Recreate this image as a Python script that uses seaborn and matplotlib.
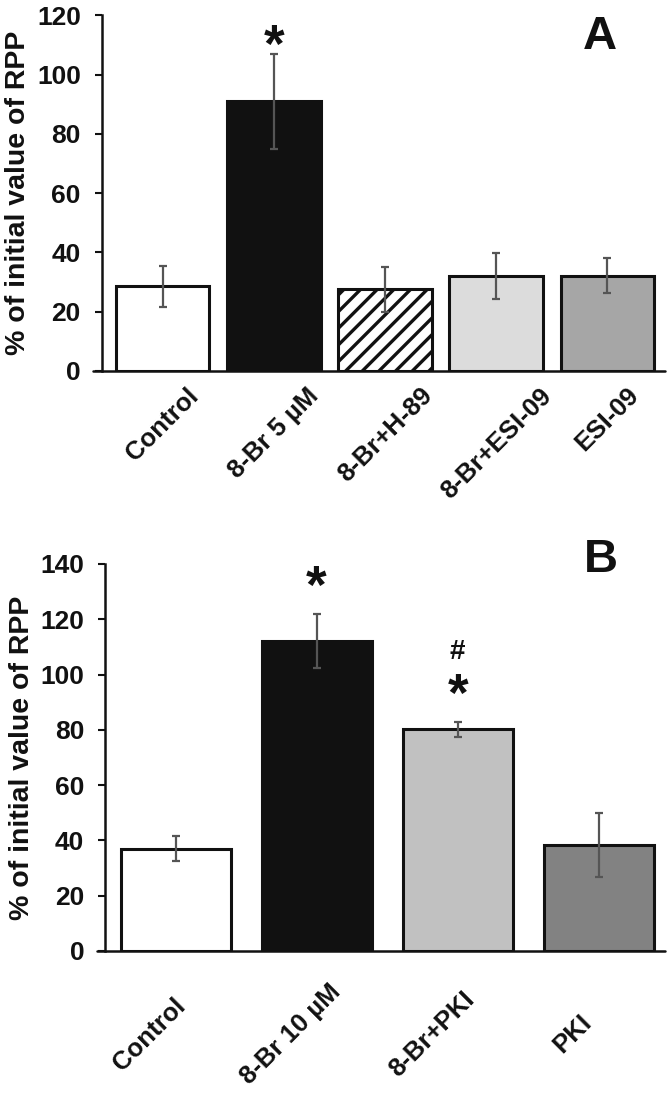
import seaborn as sns
import matplotlib.pyplot as plt
import matplotlib.transforms as mtransforms
import pandas as pd
import numpy as np

sns.set_style("white")
plt.rcParams['font.family'] = ['Liberation Sans', 'DejaVu Sans']
plt.rcParams['font.weight'] = 'bold'
plt.rcParams['hatch.linewidth'] = 2.4
plt.rcParams['text.color'] = '#111111'
plt.rcParams['xtick.color'] = '#111111'
plt.rcParams['ytick.color'] = '#111111'
plt.rcParams['axes.labelcolor'] = '#111111'

# Panel A data
groups_a = ['Control', '8-Br 5 µM', '8-Br+H-89', '8-Br+ESI-09', 'ESI-09']
mean_a = [28.5, 91.0, 27.5, 32.0, 32.2]
err_a = [6.8, 16.0, 7.5, 7.8, 6.0]
colors_a = ['#ffffff', '#111111', '#ffffff', '#dcdcdc', '#a6a6a6']

# Panel B data
groups_b = ['Control', '8-Br 10 µM', '8-Br+PKI', 'PKI']
mean_b = [37.0, 112.2, 80.2, 38.3]
err_b = [4.4, 9.7, 2.7, 11.5]
colors_b = ['#ffffff', '#111111', '#c1c1c1', '#828282']

fig = plt.figure(figsize=(6.69, 10.93), dpi=100)
ax_a = fig.add_axes([0.152, 0.6606, 0.842, 0.3254])
ax_b = fig.add_axes([0.157, 0.130, 0.837, 0.354])


def draw_panel(ax, groups, means, errs, colors, width, ymax, xlim, letter, letter_y,
               xva, xpad, xshift):
    df = pd.DataFrame({'group': groups, 'value': means})
    sns.barplot(data=df, x='group', y='value', ax=ax, width=width,
                edgecolor='#111111', linewidth=2.2)
    for patch, c in zip(ax.patches, colors):
        patch.set_facecolor(c)
    ax.errorbar(np.arange(len(groups)), means, yerr=errs, fmt='none',
                ecolor='#555555', elinewidth=1.6, capsize=3, capthick=1.6)
    ax.set_ylim(0, ymax)
    ax.set_xlim(*xlim)
    ax.set_yticks(np.arange(0, ymax + 1, 20))
    ax.set_xlabel('')
    ax.set_ylabel('% of initial value of RPP', fontsize=20.5, fontweight='bold', labelpad=4)
    ax.tick_params(axis='y', labelsize=19, length=5, width=1.5, direction='out', left=True, pad=10)
    ax.tick_params(axis='x', labelsize=18.5, length=0, pad=xpad)
    plt.setp(ax.get_xticklabels(), rotation=45, ha='center', va=xva, fontweight='bold')
    plt.setp(ax.get_yticklabels(), fontweight='bold')
    if xshift:
        shift = mtransforms.ScaledTranslation(xshift / 100, 0, fig.dpi_scale_trans)
        for lab in ax.get_xticklabels():
            lab.set_transform(lab.get_transform() + shift)
    for s in ['top', 'right', 'bottom']:
        ax.spines[s].set_visible(False)
    ax.spines['left'].set_linewidth(1.8)
    ax.spines['left'].set_color('#111111')
    # x axis line runs a little past the y axis, as in the original
    ax.axhline(0, xmin=-0.015, xmax=1, color='#111111', lw=1.8, clip_on=False, zorder=5)
    ax.text(0.885, letter_y, letter, transform=ax.transAxes, fontsize=34,
            fontweight='bold', ha='center', va='center')


draw_panel(ax_a, groups_a, mean_a, err_a, colors_a, 0.84, 120, (-0.55, 4.52), 'A', 0.94,
           'top', 9, 0)
ax_a.patches[2].set_hatch('//')
ax_a.text(1, 109, '*', fontsize=38, fontweight='bold', ha='center', va='center')

draw_panel(ax_b, groups_b, mean_b, err_b, colors_b, 0.78, 140, (-0.5, 3.47), 'B', 1.01,
           'center', 60, -26)
ax_b.text(1, 131, '*', fontsize=38, fontweight='bold', ha='center', va='center')
ax_b.text(2, 108, '#', fontsize=20, fontweight='bold', ha='center', va='center')
ax_b.text(2, 92, '*', fontsize=38, fontweight='bold', ha='center', va='center')

fig.savefig('out.png', dpi=100)
